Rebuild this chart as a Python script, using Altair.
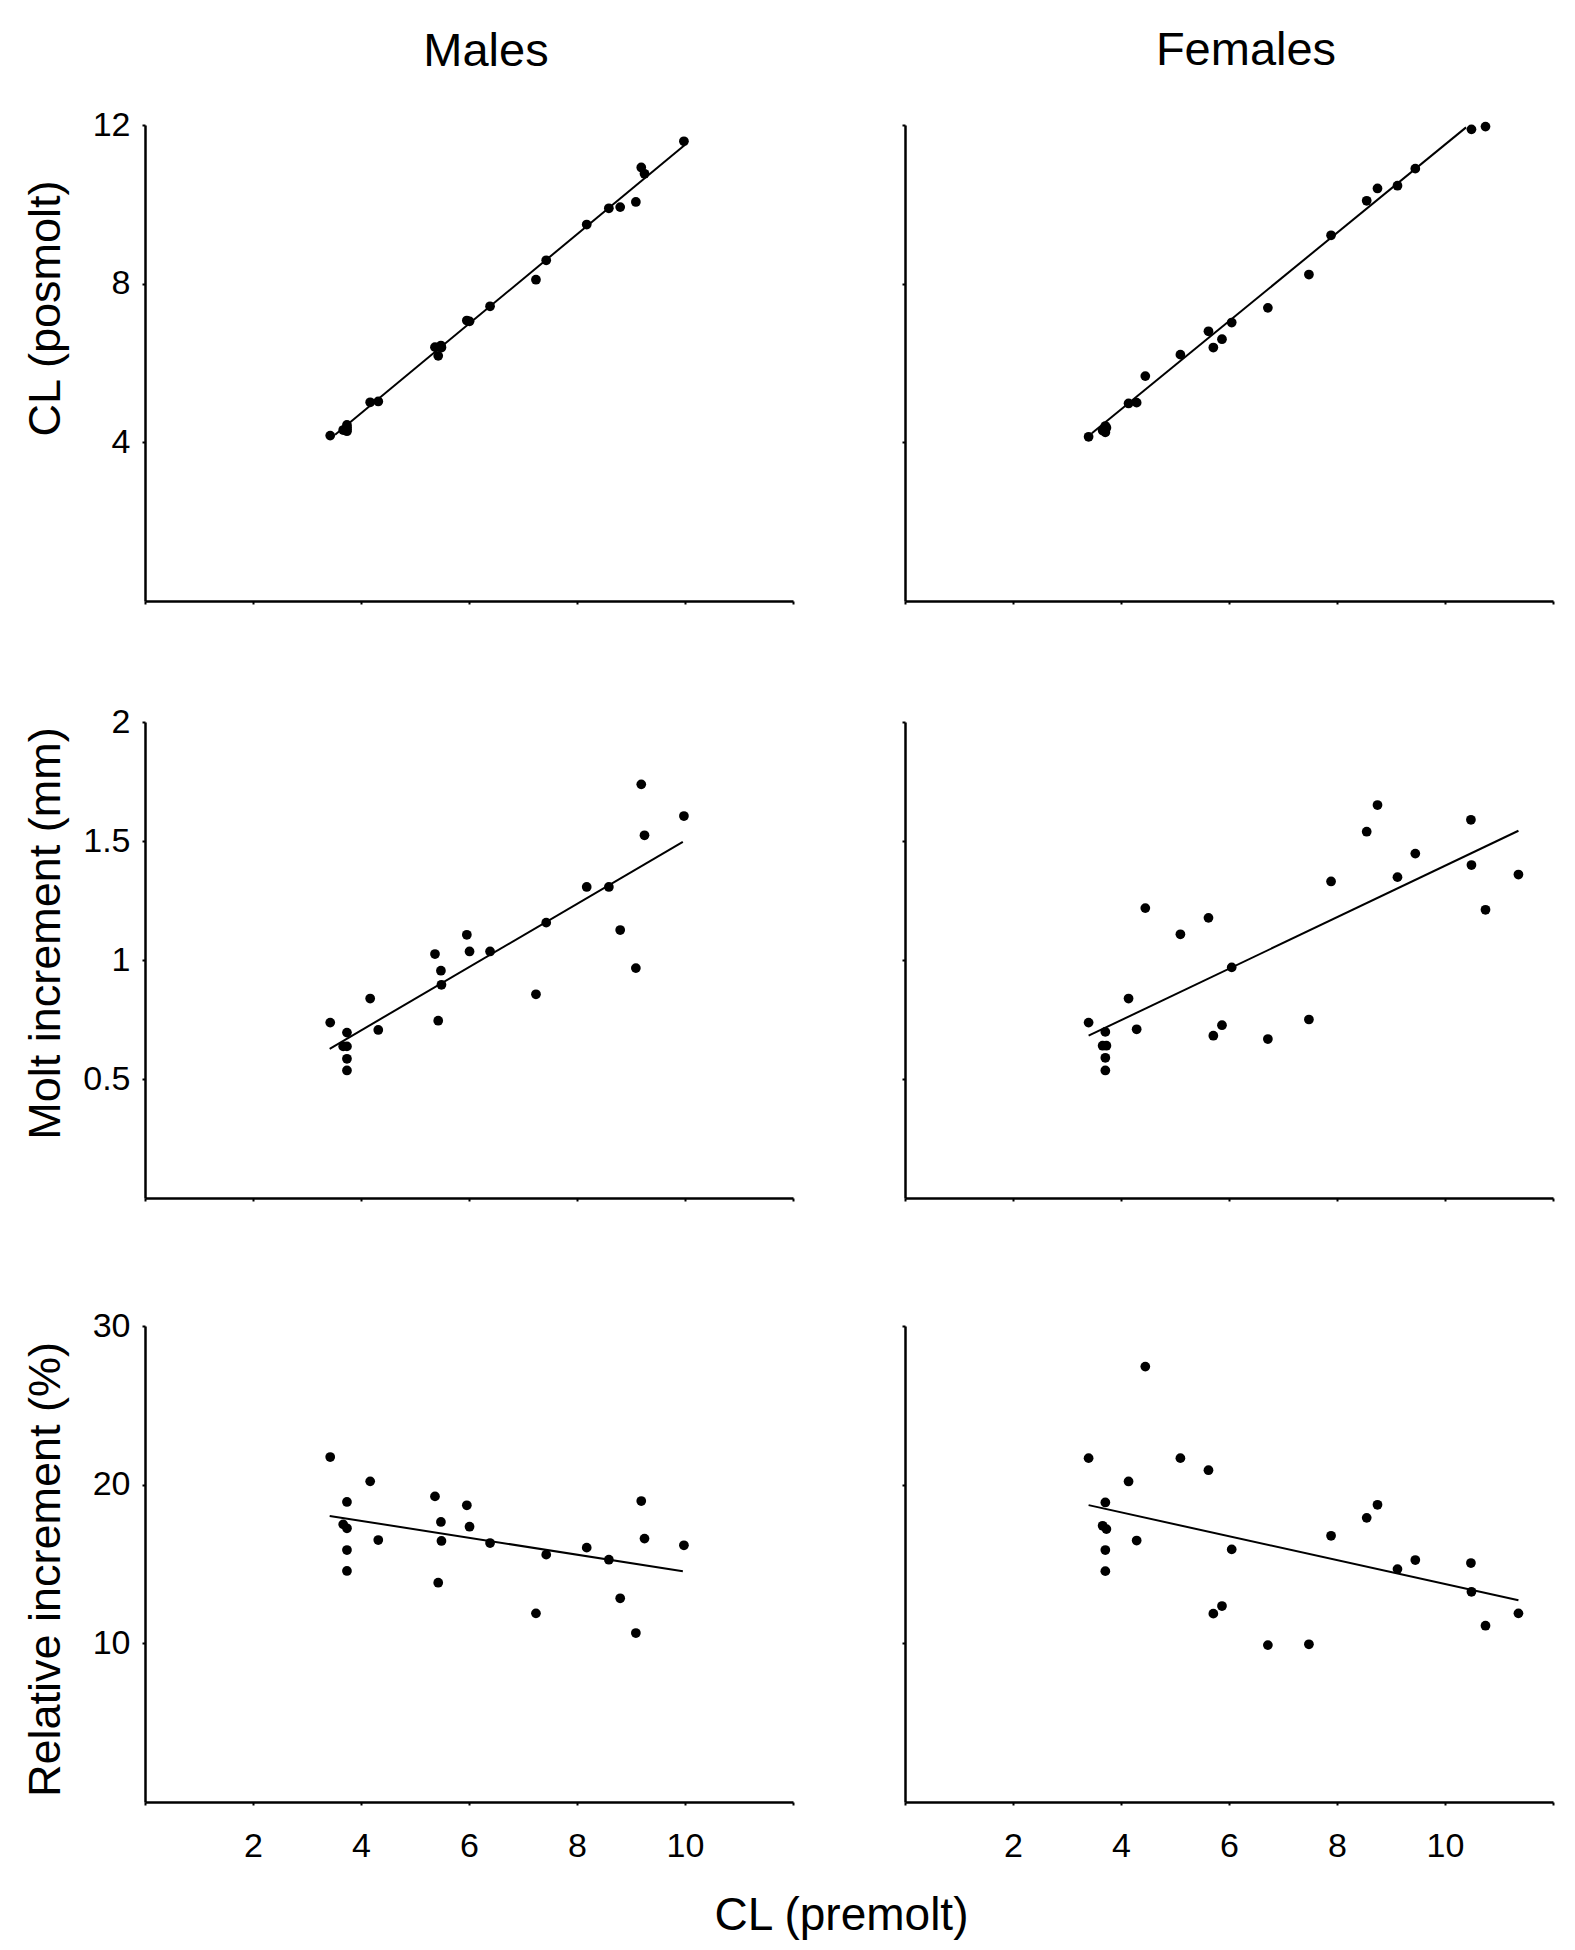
import altair as alt
import pandas as pd

FONT = "Liberation Sans"

# ---------------- data ----------------
# Males (24 individuals)
males_pre = [3.43, 3.74, 3.67, 3.74, 3.74, 3.74, 4.17, 4.32, 5.37, 5.48, 5.49, 5.43,
             5.96, 6.01, 6.39, 7.24, 7.43, 8.18, 8.59, 8.80, 9.09, 9.19, 9.25, 9.98]
males_post = [4.17, 4.44, 4.31, 4.38, 4.33, 4.28, 5.01, 5.03, 6.40, 6.44, 6.39, 6.18,
              7.07, 7.05, 7.43, 8.10, 8.59, 9.49, 9.90, 9.93, 10.06, 10.93, 10.77, 11.59]
males_inc = [0.737, 0.695, 0.637, 0.637, 0.585, 0.536, 0.838, 0.706, 1.025, 0.955, 0.896, 0.745,
             1.106, 1.036, 1.036, 0.856, 1.157, 1.307, 1.307, 1.126, 0.966, 1.738, 1.524, 1.605]
males_rel = [21.74, 18.91, 17.50, 17.25, 15.88, 14.56, 20.21, 16.51, 19.26, 17.65, 16.45, 13.82,
             18.70, 17.35, 16.32, 11.89, 15.59, 16.03, 15.27, 12.84, 10.65, 18.97, 16.60, 16.18]

# Females (25 individuals in the lower panels, 23 visible in the top panel)
fem_pre = [3.40, 3.71, 3.66, 3.73, 3.71, 3.71, 4.14, 4.29, 4.45, 5.10, 5.62, 5.71, 5.87,
           6.05, 6.72, 7.48, 7.89, 8.55, 8.75, 9.12, 9.45, 10.48, 10.49, 10.75, 11.36]
fem_inc = [0.737, 0.698, 0.640, 0.640, 0.589, 0.536, 0.838, 0.709, 1.218, 1.108, 1.177, 0.682, 0.726,
           0.969, 0.668, 0.750, 1.330, 1.539, 1.651, 1.348, 1.447, 1.589, 1.399, 1.211, 1.359]
fem_rel = [21.67, 18.88, 17.41, 17.20, 15.88, 14.55, 20.20, 16.48, 27.44, 21.67, 20.91, 11.87, 12.35,
           15.92, 9.89, 9.94, 16.78, 17.91, 18.73, 14.68, 15.25, 15.06, 13.25, 11.11, 11.89]
fem_pre_top = [3.40, 3.71, 3.66, 3.73, 3.71, 3.71, 4.14, 4.29, 4.45, 5.10, 5.62, 5.71,
               5.87, 6.05, 6.72, 7.48, 7.89, 8.55, 8.75, 9.12, 9.45, 10.49, 10.75]
fem_post_top = [4.14, 4.41, 4.30, 4.37, 4.30, 4.25, 4.98, 5.00, 5.67, 6.21, 6.80, 6.39,
                6.60, 7.02, 7.39, 8.23, 9.22, 10.09, 10.40, 10.47, 10.90, 11.89, 11.96]

# Regression line end points
males_fit_post_x = [3.52, 9.99]
males_fit_post_y = [4.19, 11.49]
fem_fit_post_x = [3.46, 10.39]
fem_fit_post_y = [4.23, 11.94]
males_fit_inc_x = [3.42, 9.96]
males_fit_inc_y = [0.627, 1.496]
fem_fit_inc_x = [3.40, 11.36]
fem_fit_inc_y = [0.682, 1.543]
males_fit_rel_x = [3.42, 9.96]
males_fit_rel_y = [18.03, 14.54]
fem_fit_rel_x = [3.40, 11.36]
fem_fit_rel_y = [18.71, 12.71]

x_ticks = [0, 2, 4, 6, 8, 10, 12]
y_ticks_post = [4, 8, 12]
y_ticks_inc = [0.5, 1, 1.5, 2]
y_ticks_rel = [10, 20, 30]

W, H = 648, 476


def panel(xv, yv, fx, fy, ymax, yticks, ylabels, xlabels,
          ytitle=None, ytitle_y=0, col_title=None, title_offset=0):
    pts = pd.DataFrame({"x": xv, "y": yv})
    fit = pd.DataFrame({"x": fx, "y": fy})

    xaxis_kw = dict(values=x_ticks, labels=xlabels, title=None,
                    labelExpr="(datum.value == 0 || datum.value == 12) ? '' : format(datum.value, '~g')")
    yaxis_kw = dict(values=yticks, labels=ylabels,
                    labelExpr="format(datum.value, '~g')")
    if ytitle:
        yaxis_kw.update(title=ytitle, titleX=-100, titleY=ytitle_y, titleAngle=270,
                        titleAlign="center", titleBaseline="middle")
    else:
        yaxis_kw.update(title=None)

    xenc = alt.X("x:Q", scale=alt.Scale(domain=[0, 12], nice=False, zero=False),
                 axis=alt.Axis(**xaxis_kw))
    yenc = alt.Y("y:Q", scale=alt.Scale(domain=[0, ymax], nice=False, zero=False),
                 axis=alt.Axis(**yaxis_kw))

    points = alt.Chart(pts).mark_circle(size=95, color="black", opacity=1).encode(x=xenc, y=yenc)
    line = alt.Chart(fit).mark_line(color="black", strokeWidth=2).encode(x="x:Q", y="y:Q")
    props = dict(width=W, height=H)
    if col_title:
        props["title"] = alt.TitleParams(text=col_title, fontSize=47, font=FONT,
                                         fontWeight="normal", color="black",
                                         anchor="middle", dx=17, offset=title_offset,
                                         baseline="alphabetic")
    return alt.layer(points, line).properties(**props)


m1 = panel(males_pre, males_post, males_fit_post_x, males_fit_post_y, 12, y_ticks_post,
           True, False, "CL (posmolt)", 183, "Males", -5)
f1 = panel(fem_pre_top, fem_post_top, fem_fit_post_x, fem_fit_post_y, 12, y_ticks_post,
           False, False, None, 0, "Females", 10)
m2 = panel(males_pre, males_inc, males_fit_inc_x, males_fit_inc_y, 2, y_ticks_inc,
           True, False, "Molt increment (mm)", 211)
f2 = panel(fem_pre, fem_inc, fem_fit_inc_x, fem_fit_inc_y, 2, y_ticks_inc,
           False, False)
m3 = panel(males_pre, males_rel, males_fit_rel_x, males_fit_rel_y, 30, y_ticks_rel,
           True, True, "Relative increment (%)", 243)
f3 = panel(fem_pre, fem_rel, fem_fit_rel_x, fem_fit_rel_y, 30, y_ticks_rel,
           False, True)

row1 = alt.hconcat(m1, f1, spacing=107)
row2 = alt.hconcat(m2, f2, spacing=107)
row3 = alt.hconcat(m3, f3, spacing=107)

upper = alt.vconcat(row1, row2, spacing=100)

chart = alt.vconcat(upper, row3, spacing=107).properties(
    padding={"left": 14, "top": 18, "right": 5, "bottom": 5},
    background="white",
    title=alt.TitleParams(text="CL (premolt)", orient="bottom", anchor="middle",
                          fontSize=46, font=FONT, fontWeight="normal", color="black",
                          dx=53, offset=31, baseline="top"),
).configure_view(strokeWidth=0).configure_axis(
    domainColor="black", domainWidth=2.5, tickColor="black", tickWidth=2, tickSize=3,
    labelFont=FONT, labelFontSize=34, labelColor="black", grid=False,
    titleFont=FONT, titleFontSize=45, titleFontWeight="normal", titleColor="black",
).configure_axisX(labelPadding=24).configure_axisY(labelPadding=12)

chart.save("out.html", embed_options={"renderer": "svg", "actions": False})
